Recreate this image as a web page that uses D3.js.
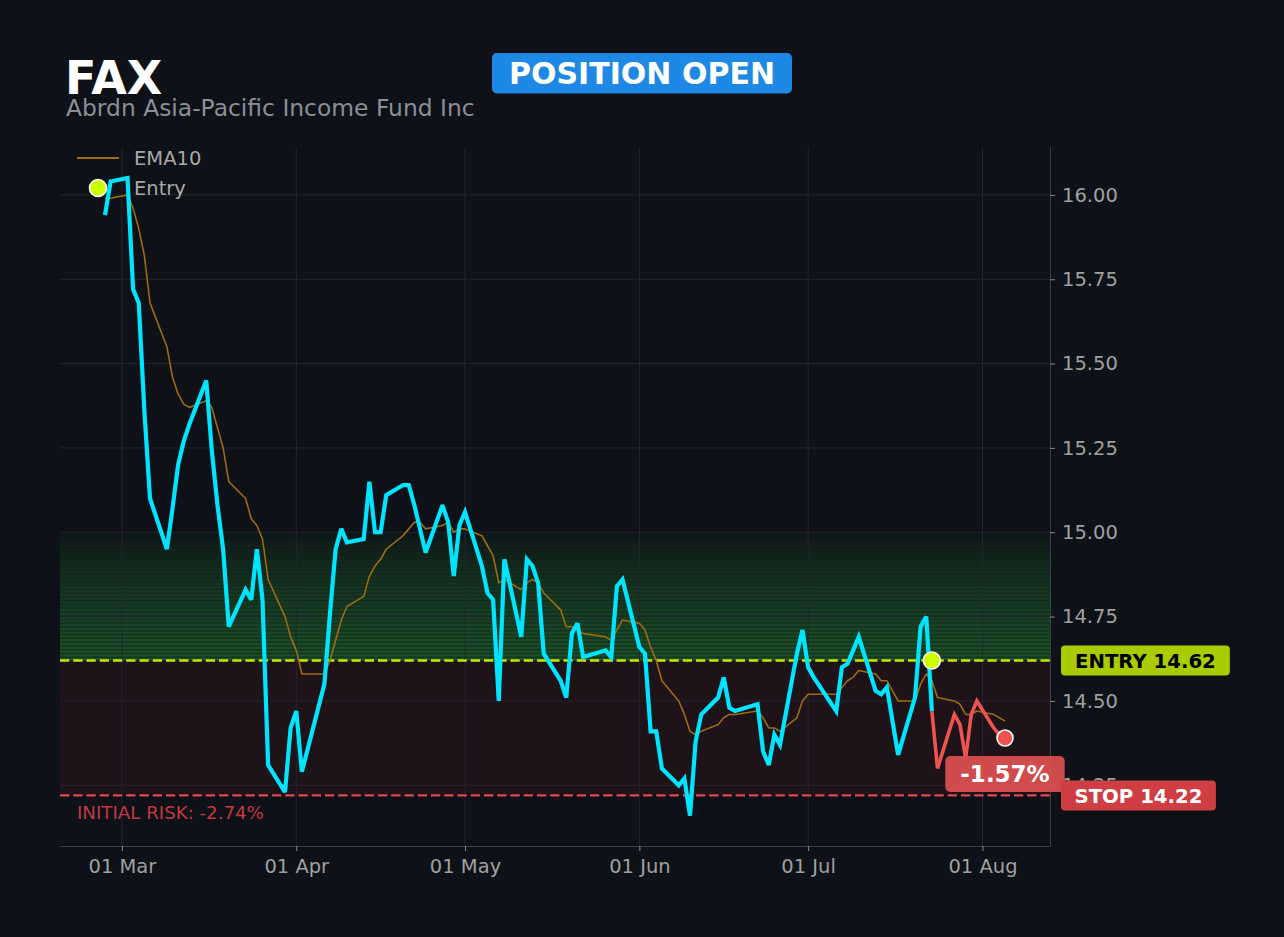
<!DOCTYPE html>
<html>
<head>
<meta charset="utf-8">
<script src="https://cdn.jsdelivr.net/npm/d3@7"></script>
<style>
  body { margin: 0; background: #0e1117; }
  svg text { font-family: "DejaVu Sans", sans-serif; }
</style>
</head>
<body>
<div id="chart"></div>
<script>
// trading days shown on the chart
const dates = [
  "2026-02-26","2026-02-27",
  "2026-03-02","2026-03-03","2026-03-04","2026-03-05","2026-03-06",
  "2026-03-09","2026-03-10","2026-03-11","2026-03-12","2026-03-13",
  "2026-03-16","2026-03-17","2026-03-18","2026-03-19","2026-03-20",
  "2026-03-23","2026-03-24","2026-03-25","2026-03-26","2026-03-27",
  "2026-03-30","2026-03-31","2026-04-01","2026-04-02",
  "2026-04-06","2026-04-07","2026-04-08","2026-04-09","2026-04-10",
  "2026-04-13","2026-04-14","2026-04-15","2026-04-16","2026-04-17",
  "2026-04-20","2026-04-21","2026-04-22","2026-04-23","2026-04-24",
  "2026-04-27","2026-04-28","2026-04-29","2026-04-30","2026-05-01",
  "2026-05-04","2026-05-05","2026-05-06","2026-05-07","2026-05-08",
  "2026-05-11","2026-05-12","2026-05-13","2026-05-14","2026-05-15",
  "2026-05-18","2026-05-19","2026-05-20","2026-05-21","2026-05-22",
  "2026-05-26","2026-05-27","2026-05-28","2026-05-29",
  "2026-06-01","2026-06-02","2026-06-03","2026-06-04","2026-06-05",
  "2026-06-08","2026-06-09","2026-06-10","2026-06-11","2026-06-12",
  "2026-06-15","2026-06-16","2026-06-17","2026-06-18",
  "2026-06-22","2026-06-23","2026-06-24","2026-06-25","2026-06-26",
  "2026-06-29","2026-06-30","2026-07-01","2026-07-02",
  "2026-07-06","2026-07-07","2026-07-08","2026-07-09","2026-07-10",
  "2026-07-13","2026-07-14","2026-07-15","2026-07-16","2026-07-17",
  "2026-07-20","2026-07-21","2026-07-22","2026-07-23","2026-07-24",
  "2026-07-27","2026-07-28","2026-07-29","2026-07-30","2026-07-31",
  "2026-08-03","2026-08-04","2026-08-05"
];

const closes = [
  15.94, 16.04,
  16.05, 15.72, 15.68, 15.36, 15.10,
  14.95, 15.07, 15.20, 15.27, 15.32,
  15.45, 15.24, 15.08, 14.95, 14.72,
  14.83, 14.80, 14.95, 14.80, 14.31,
  14.23, 14.42, 14.47, 14.29,
  14.55, 14.76, 14.95, 15.01, 14.97,
  14.98, 15.15, 15.00, 15.00, 15.11,
  15.14, 15.14, 15.08, 15.01, 14.94,
  15.08, 15.03, 14.87, 15.02, 15.06,
  14.90, 14.82, 14.80, 14.50, 14.92,
  14.69, 14.92, 14.90, 14.85, 14.64,
  14.56, 14.51, 14.70, 14.73, 14.63,
  14.65, 14.63, 14.84, 14.86,
  14.66, 14.64, 14.41, 14.41, 14.30,
  14.25, 14.27, 14.16, 14.38, 14.46,
  14.51, 14.57, 14.48, 14.47,
  14.49, 14.35, 14.31, 14.40, 14.37,
  14.64, 14.71, 14.60, 14.57,
  14.47, 14.60, 14.61, 14.65, 14.69,
  14.53, 14.52, 14.54, 14.44, 14.34,
  14.51, 14.72, 14.75, 14.47, 14.30,
  14.46, 14.43, 14.33, 14.46, 14.50,
  14.42, 14.40, 14.39
];

const ema10 = [
  15.99, 15.99,
  16.00, 15.96, 15.90, 15.82, 15.68,
  15.55, 15.46, 15.41, 15.38, 15.37,
  15.39, 15.37, 15.31, 15.25, 15.15,
  15.10, 15.04, 15.02, 14.98, 14.86,
  14.75, 14.69, 14.65, 14.58,
  14.58, 14.62, 14.68, 14.74, 14.78,
  14.81, 14.87, 14.90, 14.92, 14.95,
  14.99, 15.01, 15.03, 15.03, 15.01,
  15.02, 15.03, 15.00, 15.01, 15.01,
  14.99, 14.96, 14.93, 14.85, 14.86,
  14.83, 14.85, 14.86, 14.85, 14.82,
  14.77, 14.72, 14.72, 14.71, 14.70,
  14.69, 14.68, 14.71, 14.74,
  14.73, 14.71, 14.66, 14.62, 14.56,
  14.50, 14.46, 14.41, 14.40, 14.41,
  14.43, 14.45, 14.46, 14.46,
  14.47, 14.45, 14.42, 14.42, 14.41,
  14.45, 14.50, 14.52, 14.52,
  14.52, 14.54, 14.56, 14.57, 14.59,
  14.58, 14.56, 14.56, 14.53, 14.50,
  14.50, 14.55, 14.58, 14.56, 14.51,
  14.50, 14.49, 14.46, 14.46, 14.47,
  14.46, 14.45, 14.44
];

const ticker = "FAX";
const companyName = "Abrdn Asia-Pacific Income Fund Inc";
const statusLabel = "POSITION OPEN";
const entryDate = "2026-07-23";
const entryPrice = 14.62;
const stopPrice = 14.22;
const targetPrice = 15.00;

const yTicks = [14.25, 14.50, 14.75, 15.00, 15.25, 15.50, 15.75, 16.00];
const xTickDates = ["2026-03-01","2026-04-01","2026-05-01","2026-06-01","2026-07-01","2026-08-01"];
const xTickLabels = ["01 Mar","01 Apr","01 May","01 Jun","01 Jul","01 Aug"];
const xDomain = ["2026-02-18", "2026-08-13"];
const yDomain = [14.07, 16.142];

const W = 1284, H = 937;
const margin = { top: 147, right: 234, bottom: 91, left: 60 },
      width = W - margin.left - margin.right,
      height = H - margin.top - margin.bottom;

const C = {
  bg: "#0e1117", grid: "#22262d", spine: "#3a3e45", tick: "#a0a0a0",
  price: "#00e5ff", loss: "#ef5350", ema: "#9c6b12",
  entry: "#c6e600", entryDot: "#ccff00", entryBadge: "#a8cc00",
  stop: "#e0484c", stopBadge: "#cf3e43", zoneGreen: "#2a8f39"
};

// plain hyphen for negatives, like the reference
const fmt2 = d3.formatLocale({ decimal: ".", thousands: ",", grouping: [3], currency: ["$", ""], minus: "-" }).format(".2f");

const parse = d3.utcParse("%Y-%m-%d");
const data = dates.map((d, i) => ({ date: parse(d), close: closes[i], ema: ema10[i] }));
const entryIdx = dates.indexOf(entryDate);
const last = data[data.length - 1];

const svg = d3.select("#chart").append("svg")
  .attr("width", W).attr("height", H)
  .style("background", C.bg);

const g = svg.append("g")
  .attr("transform", `translate(${margin.left},${margin.top})`);

const x = d3.scaleUtc().domain(xDomain.map(parse)).range([0, width]);
const y = d3.scaleLinear().domain(yDomain).range([height, 0]);

svg.append("defs").append("clipPath").attr("id", "plot")
  .append("rect").attr("width", width).attr("height", height);

// risk zone (entry -> stop)
g.append("rect")
  .attr("x", 0).attr("width", width)
  .attr("y", y(entryPrice)).attr("height", y(stopPrice) - y(entryPrice))
  .attr("fill", "#e53935").attr("fill-opacity", 0.08);

// target zone, striped and fading upward
const nBands = 34;
const bandStep = (targetPrice - entryPrice) / nBands;
const bands = d3.range(nBands).map(i => ({
  lo: entryPrice + i * bandStep,
  hi: entryPrice + (i + 1) * bandStep,
  a: 0.03 + 0.48 * Math.pow(1 - i / nBands, 0.8)
}));
const zone = g.append("g");
zone.selectAll("rect").data(bands).enter().append("rect")
  .attr("x", 0).attr("width", width)
  .attr("y", d => y(d.hi)).attr("height", d => y(d.lo) - y(d.hi))
  .attr("fill", C.zoneGreen).attr("fill-opacity", d => d.a);
zone.selectAll("line").data(bands).enter().append("line")
  .attr("x1", 0).attr("x2", width)
  .attr("y1", d => y(d.hi) + 0.6).attr("y2", d => y(d.hi) + 0.6)
  .attr("stroke", C.bg).attr("stroke-width", 1.3)
  .attr("stroke-opacity", d => 0.42 * d.a / 0.51);

// grid
g.append("g").selectAll("line").data(yTicks).enter().append("line")
  .attr("x1", 0).attr("x2", width)
  .attr("y1", d => y(d)).attr("y2", d => y(d))
  .attr("stroke", C.grid).attr("stroke-width", 1);
g.append("g").selectAll("line").data(xTickDates).enter().append("line")
  .attr("x1", d => x(parse(d))).attr("x2", d => x(parse(d)))
  .attr("y1", 0).attr("y2", height)
  .attr("stroke", C.grid).attr("stroke-width", 1);

// axes
const yAxis = g.append("g")
  .attr("transform", `translate(${width},0)`)
  .call(d3.axisRight(y).tickValues(yTicks).tickFormat(fmt2).tickSize(5).tickPadding(7));
const xAxis = g.append("g")
  .attr("transform", `translate(0,${height})`)
  .call(d3.axisBottom(x).tickValues(xTickDates.map(parse))
    .tickFormat((d, i) => xTickLabels[i]).tickSize(5).tickPadding(8));
[yAxis, xAxis].forEach(a => {
  a.select(".domain").attr("stroke", C.spine);
  a.selectAll(".tick line").attr("stroke", "#8a8a8a");
  a.selectAll(".tick text").attr("fill", C.tick)
    .style("font-size", "19.5px").style("font-family", "DejaVu Sans");
});
yAxis.select(".domain").attr("d", `M0.5,0V${height}`);
xAxis.select(".domain").attr("d", `M0,0.5H${width}`);

// entry / stop lines
g.append("line")
  .attr("x1", 0).attr("x2", width)
  .attr("y1", y(entryPrice)).attr("y2", y(entryPrice))
  .attr("stroke", C.entry).attr("stroke-width", 2.5).attr("stroke-dasharray", "9.25,4");
g.append("line")
  .attr("x1", 0).attr("x2", width)
  .attr("y1", y(stopPrice)).attr("y2", y(stopPrice))
  .attr("stroke", C.stop).attr("stroke-width", 2.2).attr("stroke-dasharray", "9.25,4");

const plot = g.append("g").attr("clip-path", "url(#plot)");

// EMA10
plot.append("path").datum(data)
  .attr("fill", "none").attr("stroke", C.ema).attr("stroke-width", 1.6)
  .attr("stroke-linejoin", "round")
  .attr("d", d3.line().x(d => x(d.date)).y(d => y(d.ema)));

// price before entry (cyan) and after entry (red)
const priceLine = d3.line().x(d => x(d.date)).y(d => y(d.close));
plot.append("path").datum(data.slice(0, entryIdx + 1))
  .attr("fill", "none").attr("stroke", C.price).attr("stroke-width", 4.2)
  .attr("stroke-linejoin", "miter").attr("stroke-miterlimit", 3)
  .attr("d", priceLine);
plot.append("path").datum(data.slice(entryIdx))
  .attr("fill", "none").attr("stroke", C.loss).attr("stroke-width", 3.6)
  .attr("stroke-linejoin", "miter").attr("stroke-miterlimit", 3)
  .attr("d", priceLine);

// markers
g.append("circle")
  .attr("cx", x(data[entryIdx].date)).attr("cy", y(entryPrice)).attr("r", 8.5)
  .attr("fill", C.entryDot).attr("stroke", "#ffffff").attr("stroke-width", 1.6);
g.append("circle")
  .attr("cx", x(last.date)).attr("cy", y(last.close)).attr("r", 8)
  .attr("fill", C.loss).attr("stroke", "#ffffff").attr("stroke-width", 1.6);

// badge helper: rect sized to its text
function badge(parent, cx, cy, label, opt) {
  const b = parent.append("g");
  const r = b.append("rect");
  const t = b.append("text")
    .attr("text-anchor", opt.anchor === "start" ? "start" : "middle")
    .attr("fill", opt.color)
    .style("font-size", opt.size + "px").style("font-weight", "bold")
    .text(label);
  const tw = t.node().getComputedTextLength();
  const w = tw + 2 * opt.padX, h = opt.h;
  const x0 = opt.anchor === "start" ? cx : cx - w / 2;
  r.attr("x", x0).attr("y", cy - h / 2).attr("width", w).attr("height", h)
    .attr("rx", opt.rx).attr("fill", opt.fill).attr("fill-opacity", opt.opacity || 1);
  t.attr("x", opt.anchor === "start" ? x0 + opt.padX : cx)
    .attr("y", cy + opt.size * 0.365);
  return b;
}

// p&l badge below the last price
const pnl = (last.close - entryPrice) / entryPrice * 100;
badge(g, x(last.date), y(last.close) + 36, fmt2(pnl) + "%",
  { color: "#ffffff", size: 23, padX: 15, h: 36, rx: 5, fill: "#e05050", opacity: 0.92 });

// right-hand price badges
badge(g, width + 11, y(entryPrice), "ENTRY " + fmt2(entryPrice),
  { anchor: "start", color: "#000000", size: 19.7, padX: 14, h: 30, rx: 4, fill: C.entryBadge });
badge(g, width + 11, y(stopPrice), "STOP " + fmt2(stopPrice),
  { anchor: "start", color: "#ffffff", size: 19.7, padX: 13.5, h: 30, rx: 4, fill: C.stopBadge });

// initial risk note
const risk = (stopPrice - entryPrice) / entryPrice * 100;
g.append("text")
  .attr("x", 17).attr("y", y(stopPrice) + 24)
  .attr("fill", "#c23a3f").style("font-size", "18.2px")
  .text("INITIAL RISK: " + fmt2(risk) + "%");

// legend
const legend = g.append("g");
legend.append("line")
  .attr("x1", 17).attr("x2", 59).attr("y1", 11).attr("y2", 11)
  .attr("stroke", C.ema).attr("stroke-width", 1.8);
legend.append("text").attr("x", 74).attr("y", 18)
  .attr("fill", "#a8a8a8").style("font-size", "19.5px").text("EMA10");
legend.append("circle").attr("cx", 38).attr("cy", 41).attr("r", 8.5)
  .attr("fill", C.entryDot).attr("stroke", "#ffffff").attr("stroke-width", 1.6);
legend.append("text").attr("x", 74).attr("y", 48)
  .attr("fill", "#a8a8a8").style("font-size", "19.5px").text("Entry");

// header
svg.append("text").attr("x", 65).attr("y", 94)
  .attr("fill", "#ffffff").style("font-size", "46px").style("font-weight", "bold")
  .text(ticker);
svg.append("text").attr("x", 66).attr("y", 116)
  .attr("fill", "#8b8f96").style("font-size", "23.4px")
  .text(companyName);
badge(svg, 642, 73.3, statusLabel,
  { color: "#ffffff", size: 30, padX: 17, h: 40.5, rx: 5, fill: "#1e88e5" });
</script>
</body>
</html>
